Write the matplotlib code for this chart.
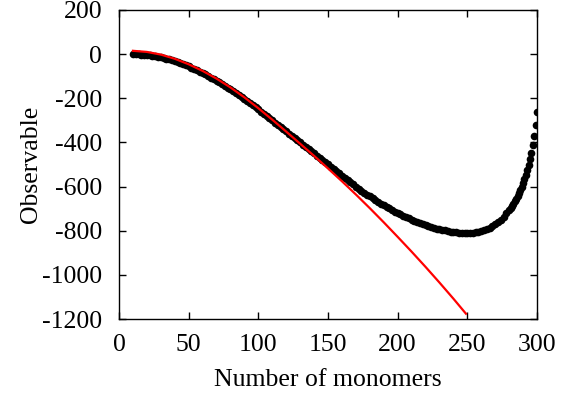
import matplotlib
matplotlib.use("Agg")
import matplotlib.pyplot as plt

# black dots: simulation observable vs number of monomers
n_dots = list(range(10, 281, 2)) + list(range(281, 301))
obs_dots = [
    0, -1, -1, -2, -3, -4, -6, -8, -10, -12,
    -15, -18, -21, -24, -27, -31, -35, -40, -45, -50,
    -55, -61, -67, -73, -79, -85, -92, -99, -106, -113,
    -120, -128, -136, -144, -152, -160, -169, -177, -186, -194,
    -203, -212, -222, -231, -241, -250, -260, -270, -280, -290,
    -300, -310, -320, -330, -340, -350, -360, -370, -380, -390,
    -400, -410, -420, -430, -440, -450, -460, -470, -480, -490,
    -500, -510, -520, -530, -540, -550, -560, -570, -580, -590,
    -600, -609, -618, -627, -636, -645, -653, -661, -669, -677,
    -685, -692, -699, -706, -713, -720, -726, -732, -738, -744,
    -750, -755, -760, -765, -770, -774, -778, -782, -786, -790,
    -793, -796, -799, -802, -804, -806, -808, -809, -810, -811,
    -811, -811, -810, -808, -806, -803, -799, -794, -788, -780,
    -771, -761, -750, -737, -722, -706,
    -697, -688, -678, -667, -655, -643, -630, -616, -601, -585,
    -567, -548, -527, -503, -476, -447, -412, -372, -322, -260,
]

# red curve: fit
n_fit = [10, 20, 30, 40, 50, 60, 70, 80, 90, 100, 110, 120, 130, 140,
         150, 160, 170, 180, 190, 200, 210, 220, 230, 240, 249]
obs_fit = [15, 10, -2, -21, -46, -76, -111, -151, -196, -245, -297, -351,
           -406, -461, -518, -576, -636, -698, -762, -828, -895, -964,
           -1035, -1108, -1176]

plt.rcParams["font.family"] = ["Liberation Serif", "DejaVu Serif"]
plt.rcParams["font.size"] = 18.5
plt.rcParams["axes.unicode_minus"] = False

fig = plt.figure(figsize=(5.73, 3.99), dpi=100)
ax = fig.add_axes([0.2077, 0.2005, 0.7295, 0.7745])

ax.plot(n_dots, obs_dots, "o", color="black", markersize=5.5,
        markeredgewidth=0, zorder=2)
ax.plot(n_fit, obs_fit, "-", color="red", linewidth=1.6, zorder=3)

ax.set_xlim(0, 300)
ax.set_ylim(-1200, 200)
ax.set_xticks(range(0, 301, 50))
ax.set_yticks(range(-1200, 201, 200))
ax.tick_params(direction="in", length=5, width=1, top=True, right=True)
ax.tick_params(axis="x", pad=11)
ax.tick_params(axis="y", pad=12)
for s in ax.spines.values():
    s.set_linewidth(1)

ax.set_xlabel("Number of monomers", labelpad=9)
ax.set_ylabel("Observable", labelpad=0)

fig.savefig("out.png", dpi=100)
